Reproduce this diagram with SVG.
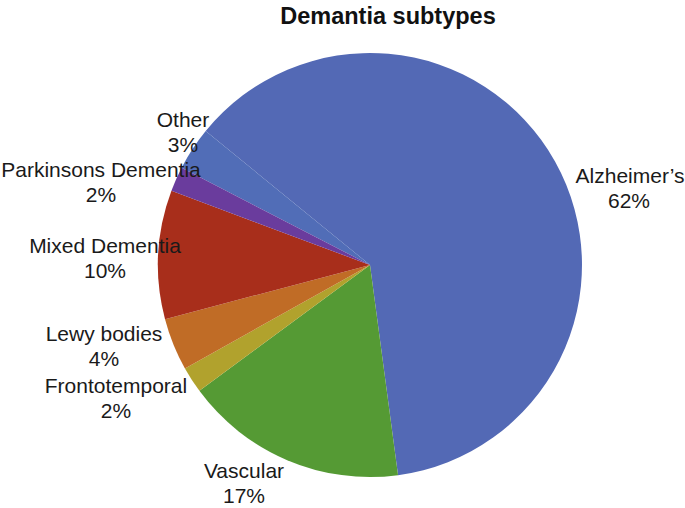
<svg xmlns="http://www.w3.org/2000/svg" width="685" height="508" viewBox="0 0 685 508">
<style>
.lbl{font-family:"Liberation Sans",Arial,sans-serif;font-size:21px;fill:#1a1a1a;text-anchor:middle}
.title{font-family:"Liberation Sans",Arial,sans-serif;font-size:23.5px;font-weight:bold;fill:#111;text-anchor:middle}
</style>
<rect width="685" height="508" fill="#ffffff"/>
<text class="title" x="388" y="24">Demantia subtypes</text>
<g id="alzheimers">
<path d="M370,265 L205.70,131.01 A212,212 0 1 1 398.04,475.14 Z" fill="#5369b5"/>
<text class="lbl" x="630" y="183">Alzheimer’s</text>
<text class="lbl" x="629" y="208">62%</text>
</g>
<g id="other">
<path d="M370,265 L181.61,167.77 A212,212 0 0 1 205.70,131.01 Z" fill="#516db7"/>
<text class="lbl" x="183" y="127">Other</text>
<text class="lbl" x="183" y="152">3%</text>
</g>
<g id="vascular">
<path d="M370,265 L398.04,475.14 A212,212 0 0 1 199.40,390.85 Z" fill="#559a34"/>
<text class="lbl" x="244" y="478">Vascular</text>
<text class="lbl" x="244" y="503">17%</text>
</g>
<g id="frontotemporal">
<path d="M370,265 L199.40,390.85 A212,212 0 0 1 184.94,368.43 Z" fill="#b1a22d"/>
<text class="lbl" x="116" y="393">Frontotemporal</text>
<text class="lbl" x="116" y="418">2%</text>
</g>
<g id="lewy">
<path d="M370,265 L184.94,368.43 A212,212 0 0 1 165.03,319.16 Z" fill="#c06c26"/>
<text class="lbl" x="104" y="341">Lewy bodies</text>
<text class="lbl" x="104" y="366">4%</text>
</g>
<g id="mixed">
<path d="M370,265 L165.03,319.16 A212,212 0 0 1 171.43,190.76 Z" fill="#a82e1b"/>
<text class="lbl" x="105" y="253">Mixed Dementia</text>
<text class="lbl" x="105" y="278">10%</text>
</g>
<g id="parkinsons">
<path d="M370,265 L171.43,190.76 A212,212 0 0 1 181.61,167.77 Z" fill="#6a3c9d"/>
<text class="lbl" x="101" y="177">Parkinsons Dementia</text>
<text class="lbl" x="101" y="202">2%</text>
</g>
<g id="connectors"></g>
</svg>
